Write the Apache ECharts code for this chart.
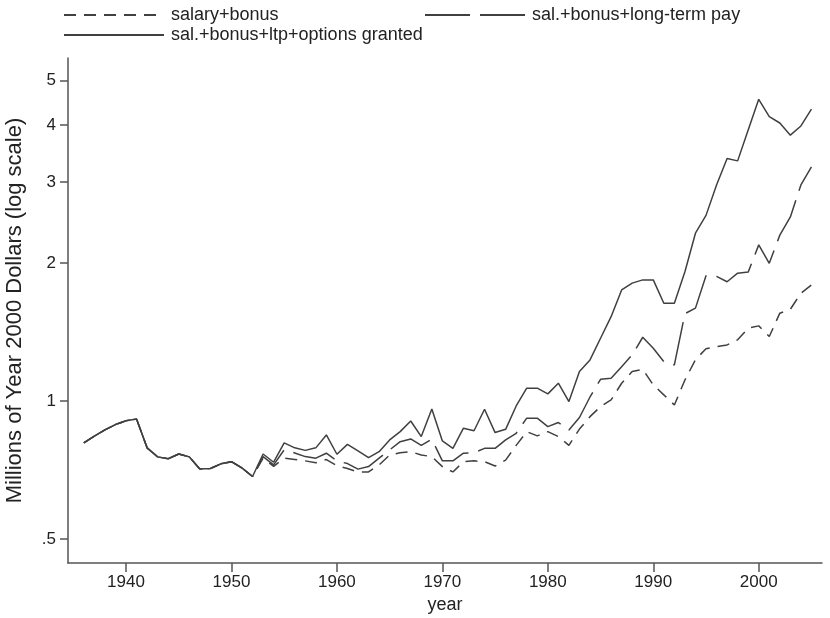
<!DOCTYPE html>
<html>
<head>
<meta charset="utf-8">
<script src="https://cdn.jsdelivr.net/npm/echarts@6/dist/echarts.min.js"></script>
<style>
html,body{margin:0;padding:0;background:#fff;}
#chart{width:830px;height:618px;}
</style>
</head>
<body>
<div id="chart"></div>
<script>
const years = [];
for (let y = 1936; y <= 2005; y++) years.push(y);

const salaryBonus = [
0.81,0.838,0.865,0.888,0.905,0.913,0.79,0.755,0.748,0.766,
0.755,0.71,0.712,0.729,0.737,0.714,0.684,0.75,0.72,0.75,
0.745,0.74,0.733,0.745,0.722,0.712,0.70,0.70,0.725,0.762,
0.771,0.775,0.762,0.756,0.719,0.70,0.737,0.74,0.737,0.721,
0.743,0.80,0.857,0.839,0.857,0.836,0.80,0.868,0.924,0.972,
1.005,1.093,1.159,1.172,1.084,1.031,0.98,1.111,1.23,1.30,
1.314,1.325,1.359,1.441,1.458,1.382,1.554,1.585,1.718,1.79
];
const longTermPay = [
0.81,0.838,0.865,0.888,0.905,0.913,0.79,0.755,0.748,0.766,
0.755,0.71,0.712,0.729,0.737,0.714,0.684,0.756,0.725,0.782,
0.77,0.756,0.75,0.769,0.74,0.73,0.71,0.719,0.75,0.782,
0.815,0.826,0.80,0.825,0.74,0.74,0.769,0.771,0.788,0.788,
0.822,0.85,0.917,0.917,0.879,0.897,0.864,0.92,1.02,1.115,
1.12,1.188,1.26,1.377,1.303,1.218,1.198,1.55,1.594,1.875,
1.87,1.82,1.90,1.91,2.19,1.997,2.30,2.52,2.96,3.24
];
const optionsGranted = [
0.81,0.838,0.865,0.888,0.905,0.913,0.79,0.755,0.748,0.766,
0.755,0.71,0.712,0.729,0.737,0.714,0.684,0.766,0.735,0.81,
0.79,0.78,0.79,0.843,0.765,0.804,0.778,0.752,0.775,0.822,
0.857,0.904,0.836,0.96,0.818,0.788,0.872,0.861,0.959,0.853,
0.867,0.975,1.066,1.066,1.036,1.093,0.997,1.16,1.229,1.37,
1.527,1.746,1.807,1.837,1.837,1.634,1.634,1.914,2.322,2.54,
2.96,3.38,3.34,3.90,4.55,4.17,4.04,3.80,3.98,4.33
];

const xTicks = [1940,1950,1960,1970,1980,1990,2000];
const yTicks = [0.5,1,2,3,4,5];
const names = ['salary+bonus','sal.+bonus+long-term pay','sal.+bonus+ltp+options granted'];

const FONT = '"Liberation Sans", Arial, Helvetica, sans-serif';
const LINE = '#404040';
const AXIS = '#555';
const TEXT = '#222';

function pairs(arr){ return years.map((y,i)=>[y,arr[i]]); }

function legendAt(name, left, top){
  return {
    data:[name], left:left, top:top, itemWidth:100, itemHeight:14, itemGap:0,
    itemStyle:{color:'rgba(0,0,0,0)', borderWidth:0, opacity:0},
    textStyle:{fontFamily:FONT, fontSize:18, color:TEXT, padding:[0,0,0,2]},
    selectedMode:false, padding:0
  };
}

const chart = echarts.init(document.getElementById('chart'), null, {renderer:'canvas'});
chart.setOption({
  animation:false,
  backgroundColor:'#fff',
  legend:[legendAt(names[0],63,6), legendAt(names[1],424,6), legendAt(names[2],63,26)],
  grid:{left:68, right:8, top:58, bottom:55, containLabel:false, outerBoundsMode:'none'},
  xAxis:{
    type:'value', min:1934.5, max:2006,
    name:'year', nameLocation:'middle', nameGap:33,
    nameTextStyle:{fontFamily:FONT, fontSize:18, color:TEXT},
    axisLine:{show:true, lineStyle:{color:AXIS, width:1.5}},
    axisTick:{show:true, length:9, customValues:xTicks, lineStyle:{color:AXIS, width:1.5}},
    axisLabel:{customValues:xTicks, margin:11, fontFamily:FONT, fontSize:17, color:TEXT,
      formatter:function(v){ return String(Math.round(v)); }},
    splitLine:{show:false}
  },
  yAxis:{
    type:'log', logBase:10, min:0.443, max:5.6,
    name:'Millions of Year 2000 Dollars (log scale)', nameLocation:'middle', nameGap:42,
    nameTextStyle:{fontFamily:FONT, fontSize:22, color:TEXT},
    axisLine:{show:true, lineStyle:{color:AXIS, width:1.5}},
    axisTick:{show:true, length:8, customValues:yTicks, lineStyle:{color:AXIS, width:1.5}},
    axisLabel:{customValues:yTicks, margin:12, fontFamily:FONT, fontSize:17, color:TEXT,
      formatter:function(v){ return Math.abs(v-0.5)<1e-9 ? '.5' : String(Math.round(v)); }},
    splitLine:{show:false}
  },
  series:[
    {name:names[0], type:'line', data:pairs(salaryBonus), symbol:'none', silent:true,
     lineStyle:{color:LINE, width:1.5, type:[12,8]}, itemStyle:{color:LINE}},
    {name:names[1], type:'line', data:pairs(longTermPay), symbol:'none', silent:true,
     lineStyle:{color:LINE, width:1.5, type:[45,10]}, itemStyle:{color:LINE}},
    {name:names[2], type:'line', data:pairs(optionsGranted), symbol:'none', silent:true,
     lineStyle:{color:LINE, width:1.5, type:'solid'}, itemStyle:{color:LINE}}
  ]
});
</script>
</body>
</html>
